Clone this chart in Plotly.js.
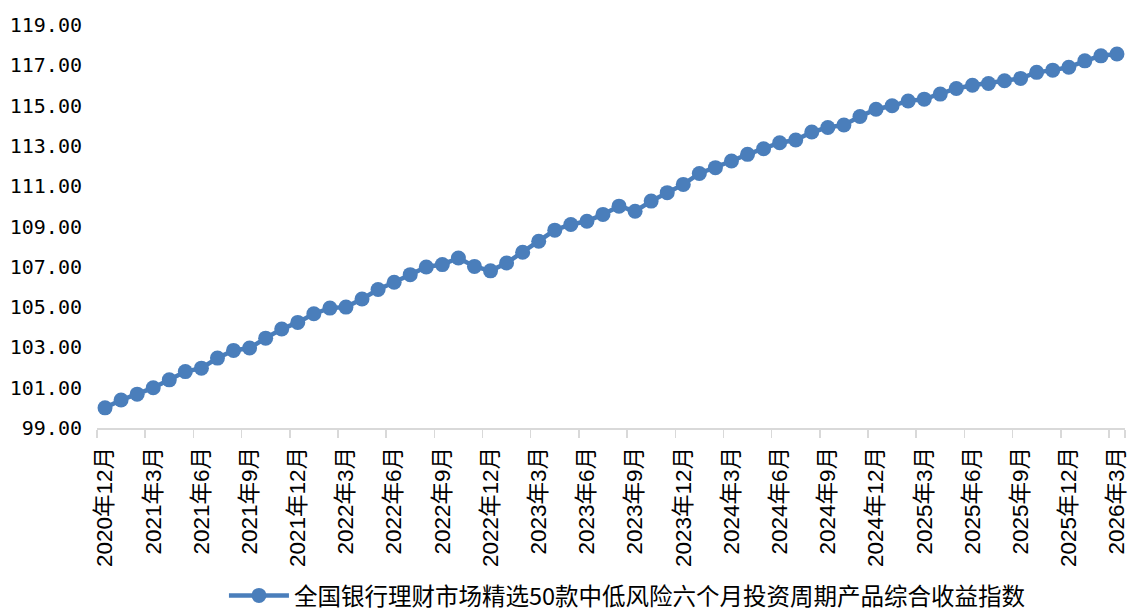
<!DOCTYPE html>
<html>
<head>
<meta charset="utf-8">
<script src="https://cdn.plot.ly/plotly-3.0.1.min.js"></script>
<style>html,body{margin:0;padding:0;background:#fff;}#chart{width:1129px;height:613px;}</style>
</head>
<body>
<div id="chart"></div>
<script>
const months = [
  "2020年12月",
  "2021年1月","2021年2月","2021年3月","2021年4月","2021年5月","2021年6月","2021年7月","2021年8月","2021年9月","2021年10月","2021年11月","2021年12月",
  "2022年1月","2022年2月","2022年3月","2022年4月","2022年5月","2022年6月","2022年7月","2022年8月","2022年9月","2022年10月","2022年11月","2022年12月",
  "2023年1月","2023年2月","2023年3月","2023年4月","2023年5月","2023年6月","2023年7月","2023年8月","2023年9月","2023年10月","2023年11月","2023年12月",
  "2024年1月","2024年2月","2024年3月","2024年4月","2024年5月","2024年6月","2024年7月","2024年8月","2024年9月","2024年10月","2024年11月","2024年12月",
  "2025年1月","2025年2月","2025年3月","2025年4月","2025年5月","2025年6月","2025年7月","2025年8月","2025年9月","2025年10月","2025年11月","2025年12月",
  "2026年1月","2026年2月","2026年3月"
];
const indexValues = [
  100.00,
  100.39,100.68,101.00,101.39,101.80,101.97,102.47,102.85,102.97,103.46,103.91,104.24,
  104.67,104.95,105.00,105.40,105.87,106.23,106.61,106.99,107.11,107.44,107.02,106.80,
  107.19,107.72,108.27,108.82,109.10,109.26,109.60,110.01,109.76,110.26,110.68,111.09,
  111.63,111.92,112.25,112.58,112.86,113.16,113.29,113.69,113.91,114.04,114.46,114.82,
  114.99,115.23,115.32,115.57,115.85,116.01,116.10,116.23,116.35,116.65,116.76,116.90,
  117.22,117.47,117.56
];
const tickLabels = months.filter((m, i) => i % 3 === 0);
const seriesName = "全国银行理财市场精选50款中低风险六个月投资周期产品综合收益指数";

const trace = {
  x: months,
  y: indexValues,
  type: "scatter",
  mode: "lines+markers",
  name: seriesName,
  line: {color: "#4a7ebb", width: 4.5},
  marker: {color: "#4a7ebb", size: 15},
  showlegend: true
};

const layout = {
  width: 1129,
  height: 613,
  margin: {l: 97, r: 4, t: 25, b: 185, autoexpand: false},
  paper_bgcolor: "#ffffff",
  plot_bgcolor: "#ffffff",
  showlegend: true,
  xaxis: {
    type: "category",
    automargin: false,
    categoryorder: "array",
    categoryarray: months,
    tickvals: tickLabels,
    ticktext: tickLabels,
    tickson: "boundaries",
    ticks: "outside",
    ticklen: 8,
    tickcolor: "#d9d9d9",
    tickwidth: 1.5,
    tickangle: -90,
    showline: true,
    linecolor: "#d9d9d9",
    linewidth: 2,
    showgrid: false,
    zeroline: false,
    range: [-0.5, 63.5],
    ticklabelstandoff: 8,
    tickfont: {family: "Liberation Sans, Arial, 'Noto Sans CJK SC', sans-serif", size: 22.5, color: "#000"}
  },
  yaxis: {
    automargin: false,
    range: [99, 119],
    tick0: 99,
    dtick: 2,
    tickformat: ".2f",
    showgrid: false,
    zeroline: false,
    showline: false,
    ticks: "",
    ticklabelstandoff: 14,
    tickfont: {family: "'DejaVu Sans Mono', monospace", size: 20, color: "#000"}
  },
  legend: {
    orientation: "h",
    x: 0.516,
    xanchor: "center",
    y: -0.416,
    yanchor: "middle",
    itemwidth: 60,
    font: {family: "'Noto Sans CJK SC', sans-serif", size: 23.5, color: "#000"},
    bgcolor: "rgba(0,0,0,0)"
  }
};

Plotly.newPlot("chart", [trace], layout, {displayModeBar: false, staticPlot: true});
</script>
</body>
</html>
